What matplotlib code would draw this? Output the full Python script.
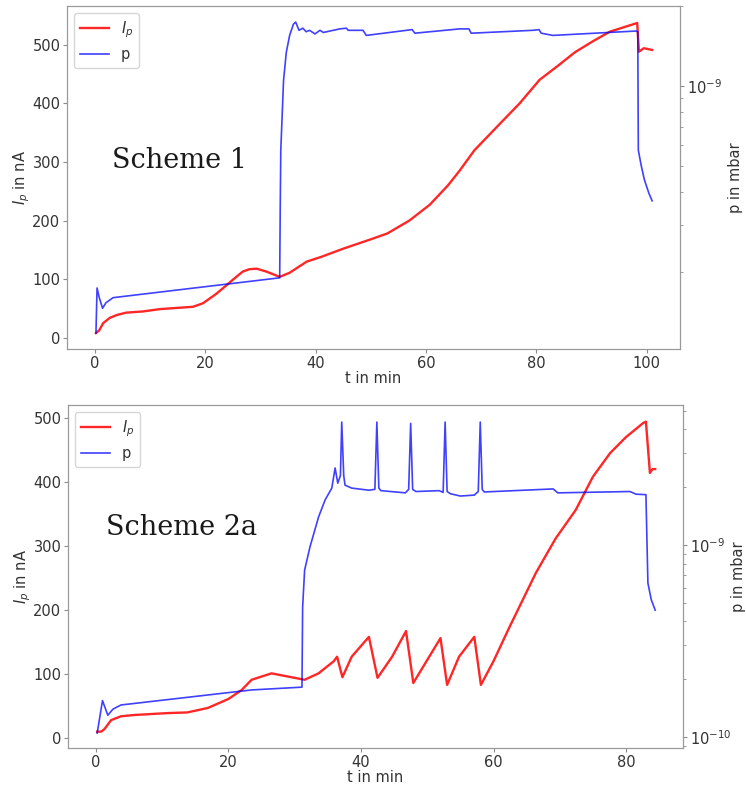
import matplotlib
matplotlib.use('Agg')
from matplotlib import pyplot as plt

# scheme 1: emission current and chamber pressure over time
t1_ip = [0.2, 0.8, 1.5, 2.7, 4, 5.7, 8.7, 11.8, 14.8, 17.8, 19.6, 22, 23.9, 25,
         26.8, 28, 29.3, 31.1, 33.5, 35.3, 38.4, 41, 45, 50, 53, 57, 60.7, 64,
         66.1, 68.8, 73.4, 77, 80.6, 84.2, 87, 90.3, 93.3, 96.3, 98.3, 98.6,
         99.5, 101]
ip1 = [8, 13, 25, 34, 39, 43, 45, 49, 51, 53, 59, 75, 90, 99, 113, 117, 118,
       113, 104, 111, 130, 138, 152, 168, 178, 200, 227, 260, 285, 320, 365,
       400, 440, 466, 487, 506, 522, 531, 537, 488, 494, 491]

t1_p = [0.2, 0.4, 0.8, 1.4, 2.0, 3.3, 33.5, 33.6, 33.7, 34.2, 34.7, 35.3, 36.0,
        36.4, 37.0, 37.7, 38.3, 38.9, 39.9, 40.8, 41.4, 44.4, 45.6, 45.9, 48.6,
        49.2, 56.5, 57.5, 58.0, 66.1, 67.8, 68.2, 79.4, 80.5, 80.9, 83.0, 98.1,
        98.4, 98.5, 99.0, 99.6, 100.4, 101]
p1 = [1.18e-10, 1.74e-10, 1.60e-10, 1.46e-10, 1.53e-10, 1.60e-10, 1.90e-10,
      3.5e-10, 5.74e-10, 1.05e-9, 1.34e-9, 1.55e-9, 1.71e-9, 1.74e-9, 1.62e-9,
      1.65e-9, 1.60e-9, 1.62e-9, 1.57e-9, 1.62e-9, 1.59e-9, 1.64e-9, 1.65e-9,
      1.62e-9, 1.62e-9, 1.55e-9, 1.62e-9, 1.63e-9, 1.58e-9, 1.64e-9, 1.64e-9,
      1.58e-9, 1.62e-9, 1.63e-9, 1.58e-9, 1.55e-9, 1.61e-9, 1.60e-9, 5.74e-10,
      5.05e-10, 4.44e-10, 3.96e-10, 3.70e-10]

# scheme 2a
t2_ip = [0.2, 0.8, 1.3, 2.3, 3.8, 5.8, 10.9, 13.8, 16.9, 20, 22, 23.5, 26.5,
         28.5, 30, 31.5, 33.6, 35.9, 36.4, 37.2, 38.6, 41.2, 42.5, 44.7, 46.8,
         47.9, 50.3, 52.0, 53.0, 54.8, 57.1, 58.1, 60, 62.4, 66.4, 69.4, 72.4,
         75.0, 77.6, 80.0, 82.6, 83.0, 83.6, 84.0, 84.4]
ip2 = [10, 10, 14, 28, 34, 36, 39, 40, 47, 61, 75, 91, 101, 97, 94, 91, 101,
       120, 127, 95, 127, 158, 94, 127, 167, 86, 127, 156, 83, 127, 158, 83,
       120, 173, 258, 312, 356, 408, 445, 470, 492, 494, 414, 420, 420]

t2_p = [0.2, 1.0, 1.8, 2.6, 3.8, 23.5, 31.1, 31.2, 31.5, 32.3, 33.6, 34.6, 35.6,
        36.1, 36.5, 36.9, 37.1, 37.4, 37.6, 38.6, 39.6, 41.2, 42.1, 42.4, 42.7,
        43.0, 46.7, 47.2, 47.5, 47.8, 48.3, 51.8, 52.4, 52.7, 53.0, 53.5, 55.0,
        57.1, 57.7, 58.0, 58.3, 58.6, 69.0, 69.7, 80.6, 81.5, 83.0, 83.2, 83.3,
        83.8, 84.4]
p2 = [1.05e-10, 1.55e-10, 1.30e-10, 1.40e-10, 1.47e-10, 1.76e-10, 1.82e-10,
      4.76e-10, 7.41e-10, 9.76e-10, 1.40e-9, 1.72e-9, 1.98e-9, 2.52e-9, 2.10e-9,
      2.3e-9, 4.37e-9, 2.3e-9, 2.05e-9, 1.98e-9, 1.96e-9, 1.93e-9, 1.95e-9,
      4.37e-9, 1.98e-9, 1.92e-9, 1.87e-9, 1.95e-9, 4.3e-9, 1.95e-9, 1.90e-9,
      1.92e-9, 1.88e-9, 4.37e-9, 1.9e-9, 1.85e-9, 1.80e-9, 1.82e-9, 1.9e-9,
      4.37e-9, 1.95e-9, 1.89e-9, 1.96e-9, 1.87e-9, 1.90e-9, 1.84e-9, 1.83e-9,
      9e-10, 6.34e-10, 5.2e-10, 4.58e-10]

fs = 10.5


def panel(rect, t_ip, ip, t_p, p, xlim, ylim, plim, title, tpos):
    ax = fig.add_axes(rect)
    ax2 = ax.twinx()
    l1, = ax.plot(t_ip, ip, color='r', lw=1.7, alpha=0.85, label='$I_p$')
    l2, = ax2.plot(t_p, p, color='b', lw=1.2, alpha=0.75, label='p')
    ax2.set_yscale('log')
    ax.set_xlim(*xlim)
    ax.set_ylim(*ylim)
    ax2.set_ylim(*plim)
    ax.set_xlabel('t in min', fontsize=fs, color='0.2', labelpad=0.5)
    ax.set_ylabel('$I_p$ in nA', fontsize=fs, color='0.2', labelpad=0)
    ax2.set_ylabel('p in mbar', fontsize=fs, color='0.2')
    ax2.yaxis.set_label_coords(1.078, 0.5)
    for a in (ax, ax2):
        a.tick_params(labelsize=fs, colors='0.55', labelcolor='0.2',
                      length=2.8, pad=2)
        a.tick_params(which='minor', colors='0.55', length=1.8)
        for s in a.spines.values():
            s.set_color('0.6')
    ax.legend([l1, l2], ['$I_p$', 'p'], loc='upper left', fontsize=fs,
              labelcolor='0.2')
    ax.text(tpos[0], tpos[1], title, transform=ax.transAxes, ha='center',
            va='center', fontsize=19.5, family='DejaVu Serif', color='0.1')
    return ax, ax2


fig = plt.figure(figsize=(7.46, 7.86), dpi=100)

panel([0.0898, 0.556, 0.8217, 0.4364], t1_ip, ip1, t1_p, p1,
      (-5.05, 106.05), (-19, 566), (1.026e-10, 2.0e-9), 'Scheme 1',
      (0.184, 0.55))
panel([0.0912, 0.0483, 0.8244, 0.4364], t2_ip, ip2, t2_p, p2,
      (-4.2, 88.6), (-15.6, 520), (8.77e-11, 5.36e-9), 'Scheme 2a',
      (0.185, 0.644))

plt.savefig('out.png', dpi=100)
